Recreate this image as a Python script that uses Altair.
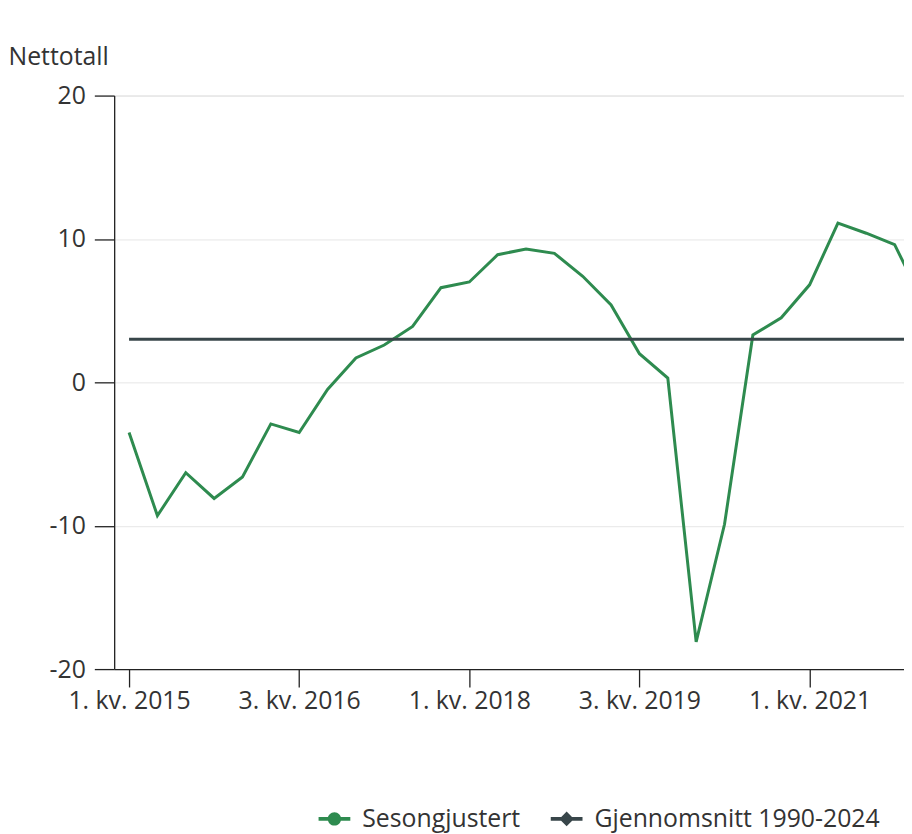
import json
import altair as alt
import pandas as pd

# ---- data ----
quarters = [
    "1. kv. 2015", "2. kv. 2015", "3. kv. 2015", "4. kv. 2015",
    "1. kv. 2016", "2. kv. 2016", "3. kv. 2016", "4. kv. 2016",
    "1. kv. 2017", "2. kv. 2017", "3. kv. 2017", "4. kv. 2017",
    "1. kv. 2018", "2. kv. 2018", "3. kv. 2018", "4. kv. 2018",
    "1. kv. 2019", "2. kv. 2019", "3. kv. 2019", "4. kv. 2019",
    "1. kv. 2020", "2. kv. 2020", "3. kv. 2020", "4. kv. 2020",
    "1. kv. 2021", "2. kv. 2021", "3. kv. 2021", "4. kv. 2021",
    "1. kv. 2022",
]
sesongjustert = [
    -3.5, -9.3, -6.3, -8.1, -6.6, -2.9, -3.5, -0.5,
    1.7, 2.6, 3.9, 6.6, 7.0, 8.9, 9.3, 9.0,
    7.4, 5.4, 2.0, 0.3, -18.1, -9.9, 3.3, 4.5,
    6.8, 11.1, 10.4, 9.6, 5.6,
]
gjennomsnitt = 3.0
series_names = ["Sesongjustert", "Gjennomsnitt 1990-2024"]
series_colors = ["#2e8b4f", "#38464a"]
x_tick_values = [0, 6, 12, 18, 24]
y_tick_values = [-20, -10, 0, 10, 20]

rows = []
for i, q in enumerate(quarters):
    rows.append({"idx": i, "kvartal": q, "value": sesongjustert[i], "series": series_names[0]})
for i, q in enumerate(quarters):
    rows.append({"idx": i, "kvartal": q, "value": gjennomsnitt, "series": series_names[1]})
df = pd.DataFrame(rows)

FONT = "Open Sans"
FS = 25
label_expr = json.dumps(quarters) + "[datum.value]"

# legend symbols: line with circle / line with diamond (unit square paths)
sym_circle = ("M-1,-0.12L1,-0.12L1,0.12L-1,0.12Z "
              "M0.42,0A0.42,0.42 0 1,1 -0.42,0A0.42,0.42 0 1,1 0.42,0Z")
sym_diamond = ("M-1,-0.12L1,-0.12L1,0.12L-1,0.12Z "
               "M0,-0.46L0.46,0L0,0.46L-0.46,0Z")

x_enc = alt.X(
    "idx:Q",
    scale=alt.Scale(domain=[-0.525, 27.33], nice=False, zero=False),
    axis=alt.Axis(
        values=x_tick_values, labelExpr=label_expr, title=None, grid=False,
        tickSize=18, labelPadding=2, labelFontSize=FS, labelFont=FONT,
        labelColor="#333333", domainColor="#222222", tickColor="#222222",
        domainWidth=1.3, tickWidth=1.3, labelFlush=False, labelOverlap=False,
    ),
)
y_enc = alt.Y(
    "value:Q",
    scale=alt.Scale(domain=[-20, 20], nice=False, zero=False),
    axis=alt.Axis(
        values=y_tick_values, labelExpr="'' + datum.value",
        title="Nettotall", titleAngle=0, titleAlign="left",
        titleBaseline="alphabetic", titleX=-107, titleY=-31, titleFontSize=FS,
        titleFont=FONT, titleFontWeight="normal", titleColor="#333333",
        labelFontSize=FS, labelFont=FONT, labelColor="#333333",
        tickSize=20, labelPadding=9, grid=True, gridColor="#e6e6e6",
        domainColor="#222222", tickColor="#222222", domainWidth=1.3, tickWidth=1.3,
    ),
)

color_scale = alt.Scale(domain=series_names, range=series_colors)

lines = alt.Chart(df).mark_line(strokeWidth=3, clip=True).encode(
    x=x_enc,
    y=y_enc,
    color=alt.Color("series:N", scale=color_scale, legend=None),
    order=alt.Order("idx:Q"),
)

legend_def = alt.Legend(
    orient="none", legendX=206, legendY=713, direction="horizontal", title=None,
    symbolSize=1024, symbolStrokeWidth=0, symbolOpacity=1,
    labelFontSize=FS, labelFont=FONT, labelColor="#333333", labelLimit=500,
    labelOffset=12, columnPadding=30, padding=0,
)

legend_layer = alt.Chart(df).mark_point(
    filled=True, opacity=0, clip=True
).encode(
    x="idx:Q",
    y="value:Q",
    color=alt.Color("series:N", scale=color_scale, legend=legend_def, sort=series_names),
    shape=alt.Shape("series:N", scale=alt.Scale(domain=series_names, range=[sym_circle, sym_diamond]),
                    legend=legend_def, sort=series_names),
)

chart = alt.layer(lines, legend_layer).resolve_legend(
    color="independent", shape="independent"
).properties(
    width=796,
    height=578,
    autosize=alt.AutoSizeParams(type="none"),
    padding={"left": 107, "top": 85, "right": 0, "bottom": 172},
).configure_view(stroke=None).configure(background="white")

chart.save("out.html", embed_options={"renderer": "svg", "actions": False})
